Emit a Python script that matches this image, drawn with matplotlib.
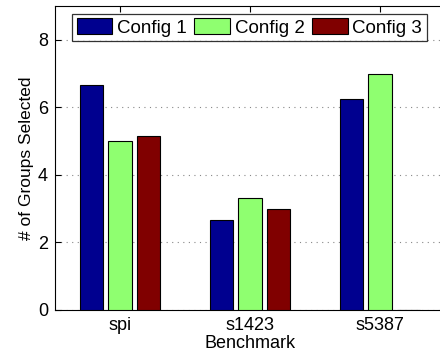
import numpy as np
import matplotlib
matplotlib.use("Agg")
import matplotlib.pyplot as plt

# 数据
benchmarks = ["spi", "s1423", "s5387"]
config_names = ["Config 1", "Config 2", "Config 3"]
config1 = [6.67, 2.67, 6.25]
config2 = [5.0, 3.33, 7.0]
config3 = [5.14, 3.0, 0.0]
colors = ["#00008f", "#8fff70", "#800000"]

plt.rcParams["font.family"] = ["Liberation Sans", "DejaVu Sans"]

fig = plt.figure(figsize=(4.4, 3.56), dpi=100)
ax = fig.add_axes([55 / 440, 46 / 356, 390 / 440, 304 / 356])

x = np.arange(1, len(benchmarks) + 1)
step = 0.223
width = 0.177
for i, (vals, name) in enumerate(zip([config1, config2, config3], config_names)):
    ax.bar(x + (i - 1) * step, vals, width, color=colors[i], edgecolor="black",
           linewidth=0.8, label=name, zorder=3)

ax.set_xlim(0.5, 3.5)
ax.set_ylim(0, 9)
ax.set_yticks([0, 2, 4, 6, 8])
ax.set_xticks(x)
ax.set_xticklabels(benchmarks)
ax.tick_params(direction="in", labelsize=13, top=True, right=False, length=4, pad=5)
ax.yaxis.grid(True, linestyle=(0, (1, 4)), color="#888888", linewidth=0.8, zorder=0)
ax.spines["right"].set_visible(False)
ax.set_ylabel("# of Groups Selected", fontsize=12.5, labelpad=3)
ax.set_xlabel("Benchmark", fontsize=13, labelpad=0.5)

leg = ax.legend(ncol=3, loc="upper left", bbox_to_anchor=(17 / 390, 0.975),
                fontsize=13.5, frameon=True, fancybox=False, edgecolor="black",
                handlelength=1.9, handleheight=0.9, handletextpad=0.25,
                columnspacing=0.4, borderpad=0.25, borderaxespad=0)
leg.get_frame().set_linewidth(0.9)

fig.savefig("out.png", dpi=100)
